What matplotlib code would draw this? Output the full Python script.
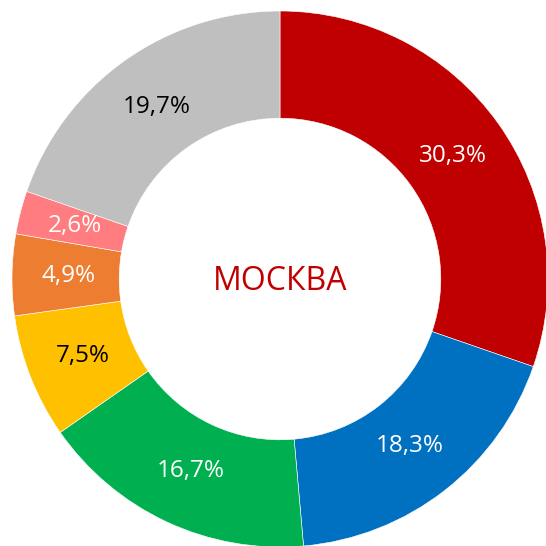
import matplotlib.pyplot as plt

# Data
labels = ['30,3%', '18,3%', '16,7%', '7,5%', '4,9%', '2,6%', '19,7%']
shares = [30.3, 18.3, 16.7, 7.5, 4.9, 2.6, 19.7]
colors = ['#C00000', '#0070C0', '#00B050', '#FFC000', '#ED7D31', '#FF7C80', '#BFBFBF']
label_colors = ['white', 'white', 'white', 'black', 'white', 'white', 'black']
center_title = 'МОСКВА'

plt.rcParams['font.family'] = ['Open Sans', 'DejaVu Sans']

W = H = 546
R = 268.0   # outer radius in pixels
cx, cy = 280.0, 279.0  # centre in pixels from top-left

fig = plt.figure(figsize=(W / 100, H / 100), dpi=100)
ax = fig.add_axes([0, 0, 1, 1])

wedges, texts = ax.pie(shares, colors=colors, startangle=90, counterclock=False,
                       radius=1.0, labels=labels, labeldistance=0.79,
                       wedgeprops=dict(width=0.4, edgecolor='white', linewidth=0.4),
                       textprops=dict(fontsize=17.5, ha='center', va='center'))
for t, c in zip(texts, label_colors):
    t.set_color(c)
    t.set_horizontalalignment('center')

ax.text(0, -0.01, center_title, ha='center', va='center', fontsize=23, color='#C00000')

ax.set_aspect('equal')
ax.set_xlim(-cx / R, (W - cx) / R)
ax.set_ylim(-(H - cy) / R, cy / R)
ax.axis('off')

fig.savefig('out.png', dpi=100, facecolor='white')
